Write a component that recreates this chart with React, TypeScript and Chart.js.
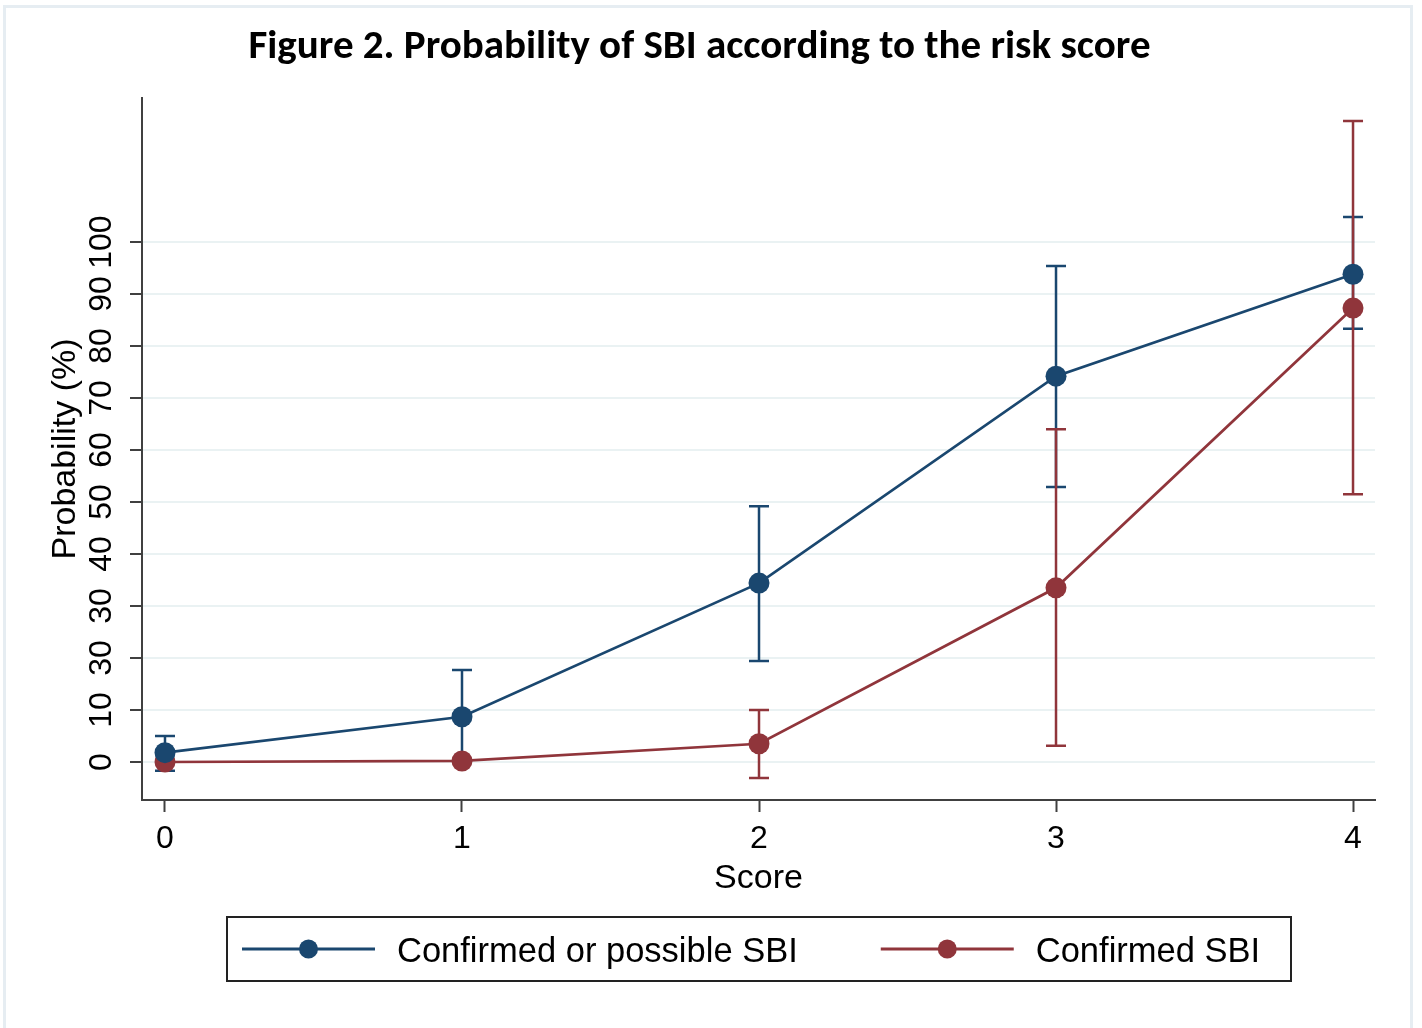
import React, { useEffect, useRef } from "react";
import { Chart, registerables } from "chart.js";

Chart.register(...registerables);

// ---- data ----
const scores = [0, 1, 2, 3, 4];
const xTickValues = [0, 1, 2, 3, 4];
const yTickValues = [0, 10, 20, 30, 40, 50, 60, 70, 80, 90, 100];
const yTickLabels = ["0", "10", "30", "30", "40", "50", "60", "70", "80", "90", "100"];
const seriesNames = ["Confirmed or possible SBI", "Confirmed SBI"];
const possibleProb = [1.8, 8.7, 34.4, 74.2, 93.8];
const possibleLower = [-1.7, 0.5, 19.4, 52.9, 83.3];
const possibleUpper = [5.0, 17.7, 49.2, 95.4, 104.8];
const confirmedProb = [0, 0.2, 3.5, 33.5, 87.3];
const confirmedLower = [0, 0.2, -3.1, 3.1, 51.5];
const confirmedUpper = [0, 0.2, 10.0, 64.0, 123.3];
const titleText = "Figure 2. Probability of SBI according to the risk score";
const xTitle = "Score";
const yTitle = "Probability (%)";

// ---- styles ----
const BLUE = "#1a476f";
const RED = "#90353b";
const AXIS = "#404040";
const GRID = "#eaf2f3";
const FONT = '"Liberation Sans", Arial, sans-serif';
const TITLE_FONT = 'Carlito, "Liberation Sans Narrow", "Liberation Sans", sans-serif';

const framePlugin = {
  id: "frame",
  beforeDraw(chart: any) {
    const { ctx, width, height } = chart;
    ctx.save();
    ctx.fillStyle = "#ffffff";
    ctx.fillRect(0, 0, width, height);
    ctx.strokeStyle = "#e6edf2";
    ctx.lineWidth = 3;
    ctx.beginPath();
    ctx.moveTo(4.5, height);
    ctx.lineTo(4.5, 6.5);
    ctx.lineTo(1411.5, 6.5);
    ctx.lineTo(1411.5, height);
    ctx.stroke();
    ctx.restore();
  },
};

const errorBarPlugin = {
  id: "errorBars",
  beforeDatasetsDraw(chart: any) {
    const { ctx } = chart;
    const xs = chart.scales.x;
    const ys = chart.scales.y;
    ctx.save();
    chart.data.datasets.forEach((ds: any) => {
      ctx.strokeStyle = ds.borderColor;
      ctx.lineWidth = 2.5;
      ds.data.forEach((pt: any, i: number) => {
        const lo = ds.errLow[i];
        const hi = ds.errHigh[i];
        if (lo === hi) return;
        const px = xs.getPixelForValue(pt.x);
        const pl = ys.getPixelForValue(lo);
        const ph = ys.getPixelForValue(hi);
        ctx.beginPath();
        ctx.moveTo(px, pl);
        ctx.lineTo(px, ph);
        ctx.moveTo(px - 10, pl);
        ctx.lineTo(px + 10, pl);
        ctx.moveTo(px - 10, ph);
        ctx.lineTo(px + 10, ph);
        ctx.stroke();
      });
    });
    ctx.restore();
  },
};

const yLabelPlugin = {
  id: "yLabels",
  afterDraw(chart: any) {
    const { ctx, chartArea } = chart;
    const ys = chart.scales.y;
    ctx.save();
    ctx.fillStyle = "#000";
    ctx.font = `32px ${FONT}`;
    ctx.textAlign = "center";
    ctx.textBaseline = "middle";
    yTickValues.forEach((v, i) => {
      const y = ys.getPixelForValue(v);
      ctx.save();
      ctx.translate(chartArea.left - 40, y);
      ctx.rotate(-Math.PI / 2);
      ctx.fillText(yTickLabels[i], 0, 0);
      ctx.restore();
    });
    ctx.restore();
  },
};

const legendPlugin = {
  id: "boxLegend",
  afterDraw(chart: any) {
    const { ctx, chartArea } = chart;
    const left = chartArea.left + 85;
    const right = chartArea.right - 84;
    const top = 917;
    const bottom = 981;
    const cy = (top + bottom) / 2;
    ctx.save();
    ctx.strokeStyle = "#222";
    ctx.lineWidth = 2;
    ctx.strokeRect(left, top, right - left, bottom - top);
    ctx.font = `34.5px ${FONT}`;
    ctx.textBaseline = "middle";
    ctx.textAlign = "left";
    let x = left + 15;
    chart.data.datasets.forEach((ds: any) => {
      const sampleW = 133;
      ctx.strokeStyle = ds.borderColor;
      ctx.lineWidth = 3;
      ctx.beginPath();
      ctx.moveTo(x, cy);
      ctx.lineTo(x + sampleW, cy);
      ctx.stroke();
      ctx.fillStyle = ds.borderColor;
      ctx.beginPath();
      ctx.arc(x + sampleW / 2, cy, 9.5, 0, Math.PI * 2);
      ctx.fill();
      ctx.fillStyle = "#000";
      const tx = x + sampleW + 22;
      ctx.fillText(ds.label, tx, cy + 3);
      x = tx + ctx.measureText(ds.label).width + 83;
    });
    ctx.restore();
  },
};

export default function App() {
  const ref = useRef<HTMLCanvasElement | null>(null);

  useEffect(() => {
    document.body.style.margin = "0";
    document.body.style.overflow = "hidden";
    if (!ref.current) return;
    const mk = (vals: number[]) => scores.map((s, i) => ({ x: s, y: vals[i] }));
    const chart = new Chart(ref.current, {
      type: "line",
      data: {
        datasets: [
          {
            label: seriesNames[0],
            data: mk(possibleProb),
            borderColor: BLUE,
            backgroundColor: BLUE,
            pointBackgroundColor: BLUE,
            pointBorderWidth: 0,
            pointRadius: 10.5,
            borderWidth: 2.7,
            tension: 0,
            clip: false,
            errLow: possibleLower,
            errHigh: possibleUpper,
          } as any,
          {
            label: seriesNames[1],
            data: mk(confirmedProb),
            borderColor: RED,
            backgroundColor: RED,
            pointBackgroundColor: RED,
            pointBorderWidth: 0,
            pointRadius: 10.5,
            borderWidth: 2.7,
            tension: 0,
            clip: false,
            errLow: confirmedLower,
            errHigh: confirmedUpper,
          } as any,
        ],
      },
      options: {
        responsive: false,
        animation: false,
        devicePixelRatio: 1,
        layout: { padding: { left: 24, right: 47, top: 0, bottom: 128 } },
        plugins: {
          legend: { display: false },
          tooltip: { enabled: false },
          title: {
            display: true,
            text: titleText,
            color: "#000",
            font: { family: TITLE_FONT, size: 41, weight: "bold" },
            padding: { top: 23.4, bottom: 25.4 },
          },
        },
        scales: {
          x: {
            type: "linear",
            min: -0.0774,
            max: 4.074,
            afterBuildTicks: (scale: any) => {
              scale.ticks = xTickValues.map((v) => ({ value: v }));
            },
            afterFit: (scale: any) => {
              scale.height = 100;
            },
            ticks: {
              color: "#000",
              font: { family: FONT, size: 32 },
              padding: 8,
              autoSkip: false,
              maxRotation: 0,
              callback: (v: any) => String(v),
            },
            grid: {
              drawOnChartArea: false,
              drawTicks: true,
              tickLength: 12,
              tickColor: AXIS,
              tickWidth: 2,
            },
            border: { color: AXIS, width: 2 },
            title: {
              display: true,
              text: xTitle,
              color: "#000",
              font: { family: FONT, size: 34 },
              padding: { top: 0, bottom: 1 },
            },
          },
          y: {
            type: "linear",
            min: -7.31,
            max: 127.7,
            afterBuildTicks: (scale: any) => {
              scale.ticks = yTickValues.map((v) => ({ value: v }));
            },
            afterFit: (scale: any) => {
              scale.width = 118;
            },
            ticks: { display: false },
            grid: {
              color: GRID,
              lineWidth: 2,
              drawTicks: true,
              tickLength: 12,
              tickColor: AXIS,
              tickWidth: 2,
            },
            border: { color: AXIS, width: 2 },
            title: {
              display: true,
              text: yTitle,
              color: "#000",
              font: { family: FONT, size: 34 },
              padding: { top: 21, bottom: 0 },
            },
          },
        },
      } as any,
      plugins: [framePlugin, errorBarPlugin, yLabelPlugin, legendPlugin],
    });
    return () => chart.destroy();
  }, []);

  return (
    <div style={{ width: 1422, height: 1028 }}>
      <canvas ref={ref} width={1422} height={1028} style={{ display: "block" }} />
    </div>
  );
}
